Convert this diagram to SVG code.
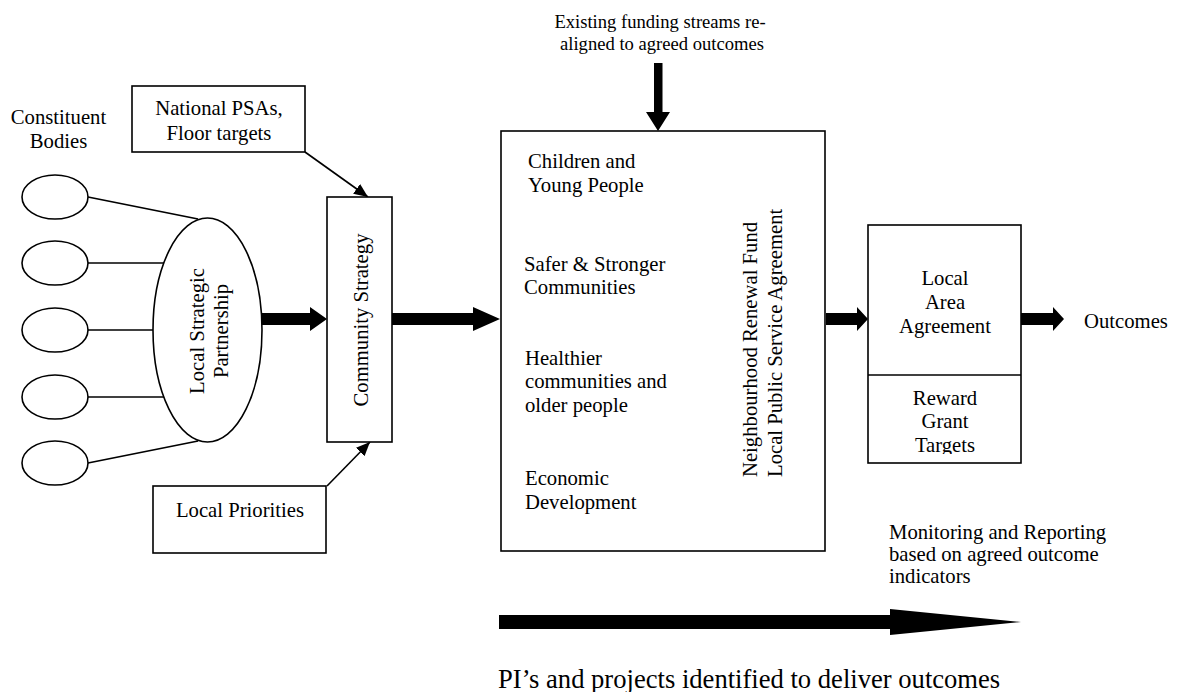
<svg xmlns="http://www.w3.org/2000/svg" width="1186" height="692" viewBox="0 0 1186 692">
<defs>
<style>
.box{fill:#fff;stroke:#000;stroke-width:1.6}
.t{font-family:"Liberation Serif","Times New Roman",serif;font-size:20.7px;fill:#000}
.m{text-anchor:middle}
.ln{stroke:#000;stroke-width:1.6;fill:none}
.blk{fill:#000;stroke:none}
</style>
<marker id="ah" viewBox="0 0 14 12" refX="14" refY="6" markerWidth="14" markerHeight="12" markerUnits="userSpaceOnUse" orient="auto"><path d="M0,0 L14,6 L0,12 z" fill="#000"/></marker>
<clipPath id="rgClip"><rect x="868" y="376" width="153" height="78"/></clipPath>
</defs>
<rect width="1186" height="692" fill="#fff"/>

<g id="connectors">
<line class="ln" x1="88" y1="197" x2="198" y2="219"/>
<line class="ln" x1="88" y1="263" x2="164" y2="263"/>
<line class="ln" x1="88" y1="330" x2="153" y2="330"/>
<line class="ln" x1="88" y1="397" x2="164" y2="397"/>
<line class="ln" x1="88" y1="463" x2="198" y2="441"/>
<line class="ln" x1="305" y1="152" x2="368" y2="197" marker-end="url(#ah)"/>
<line class="ln" x1="327" y1="486" x2="370" y2="442" marker-end="url(#ah)"/>
<path class="blk" d="M262,313 L310,313 L310,307 L327,319 L310,331 L310,325 L262,325 Z"/>
<path class="blk" d="M392,313 L473,313 L473,307 L500,319 L473,331 L473,325 L392,325 Z"/>
<path class="blk" d="M826,313 L857,313 L857,307 L868,319 L857,331 L857,325 L826,325 Z"/>
<path class="blk" d="M1021,313 L1053,313 L1053,307 L1064,319 L1053,331 L1053,325 L1021,325 Z"/>
<path class="blk" d="M654,63 L662.5,63 L662.5,112 L670,112 L658,131 L646,112 L654,112 Z"/>
<path class="blk" d="M499,615 L890,615 L890,609 L1021,622 L890,635 L890,629 L499,629 Z"/>
</g>

<g id="constituent-label">
<text class="t m" x="58.5" y="124">Constituent</text>
<text class="t m" x="58.5" y="148">Bodies</text>
</g>
<g id="body1"><ellipse class="box" cx="55" cy="197" rx="33" ry="22"/></g>
<g id="body2"><ellipse class="box" cx="55" cy="263" rx="33" ry="22"/></g>
<g id="body3"><ellipse class="box" cx="55" cy="330" rx="33" ry="22"/></g>
<g id="body4"><ellipse class="box" cx="55" cy="397" rx="33" ry="22"/></g>
<g id="body5"><ellipse class="box" cx="55" cy="463" rx="33" ry="22"/></g>

<g id="lsp">
<ellipse class="box" cx="207.5" cy="330" rx="54.5" ry="112"/>
<text class="t m" transform="translate(204,331) rotate(-90)">Local Strategic</text>
<text class="t m" transform="translate(228,331) rotate(-90)">Partnership</text>
</g>

<g id="national">
<rect class="box" x="132" y="86" width="173" height="66"/>
<text class="t m" x="219" y="115">National PSAs,</text>
<text class="t m" x="219" y="140">Floor targets</text>
</g>

<g id="local-priorities">
<rect class="box" x="153" y="486" width="173" height="67"/>
<text class="t m" x="240" y="517">Local Priorities</text>
</g>

<g id="community-strategy">
<rect class="box" x="327" y="197" width="65" height="245"/>
<text class="t m" transform="translate(368,320) rotate(-90)">Community Strategy</text>
</g>

<g id="funding">
<text class="t m" style="font-size:18.6px" x="660" y="28">Existing funding streams re-</text>
<text class="t m" style="font-size:18.6px" x="662" y="50">aligned to agreed outcomes</text>
</g>

<g id="programme">
<rect class="box" x="501" y="131" width="324" height="420"/>
<text class="t" x="528" y="168">Children and</text>
<text class="t" x="528" y="192">Young People</text>
<text class="t" x="524" y="271">Safer &amp; Stronger</text>
<text class="t" x="524" y="294">Communities</text>
<text class="t" x="525" y="365">Healthier</text>
<text class="t" x="525" y="388">communities and</text>
<text class="t" x="525" y="412">older people</text>
<text class="t" x="525" y="485">Economic</text>
<text class="t" x="525" y="509">Development</text>
<text class="t" transform="translate(757,477) rotate(-90)">Neighbourhood Renewal Fund</text>
<text class="t" transform="translate(782,477) rotate(-90)">Local Public Service Agreement</text>
</g>

<g id="laa">
<rect class="box" x="868" y="225" width="153" height="238"/>
<line class="ln" x1="868" y1="375" x2="1021" y2="375"/>
<text class="t m" x="945" y="285">Local</text>
<text class="t m" x="945" y="309">Area</text>
<text class="t m" x="945" y="333">Agreement</text>
<g clip-path="url(#rgClip)">
<text class="t m" x="945" y="405">Reward</text>
<text class="t m" x="945" y="428">Grant</text>
<text class="t m" x="945" y="452">Targets</text>
</g>
</g>

<g id="outcomes">
<text class="t" x="1084" y="328">Outcomes</text>
</g>

<g id="monitoring">
<text class="t" x="889" y="539">Monitoring and Reporting</text>
<text class="t" x="889" y="561">based on agreed outcome</text>
<text class="t" x="889" y="583">indicators</text>
</g>

<g id="pis">
<text class="t" style="font-size:26.6px" x="498" y="688">PI’s and projects identified to deliver outcomes</text>
</g>
</svg>
